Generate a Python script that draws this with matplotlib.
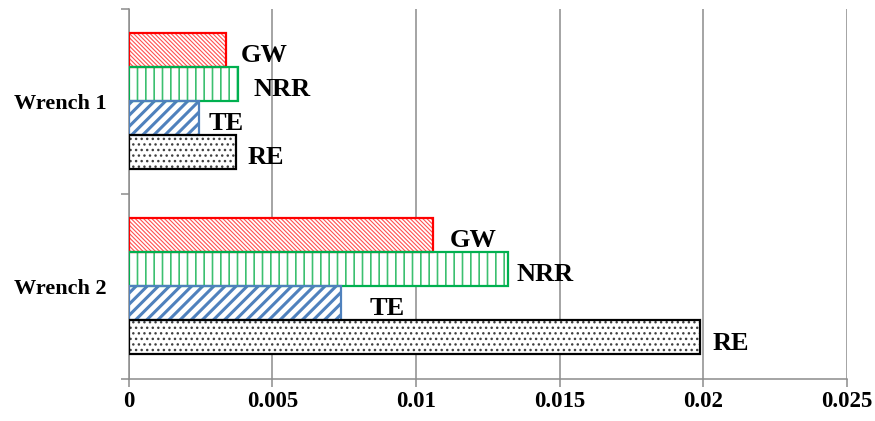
import numpy as np
import matplotlib
matplotlib.use('Agg')
import matplotlib.pyplot as plt

# === data ===
categories = ['Wrench 2', 'Wrench 1']
series_names = ['GW', 'NRR', 'TE', 'RE']
gw_vals = [0.0106, 0.0034]
nrr_vals = [0.0132, 0.0038]
te_vals = [0.0074, 0.00245]
re_vals = [0.0199, 0.00375]
x_ticks = [0, 0.005, 0.01, 0.015, 0.02, 0.025]
x_tick_labels = ['0', '0.005', '0.01', '0.015', '0.02', '0.025']

plt.rcParams['font.family'] = ['Liberation Serif', 'DejaVu Serif']
plt.rcParams['font.weight'] = 'bold'

# style per series: edge, hatch colour, hatch, hatch linewidth
styles = {
    'GW':  ('#FF0000', '#FF5050', '\\' * 8, 0.8),
    'NRR': ('#00B050', '#3CC070', '||', 1.2),
    'TE':  ('#4F81BD', '#4F81BD', '///', 2.2),
    'RE':  ('#000000', '#404040', '...', 1.0),
}
values = {'GW': gw_vals, 'NRR': nrr_vals, 'TE': te_vals, 'RE': re_vals}
offsets = {'GW': 1.5, 'NRR': 0.5, 'TE': -0.5, 'RE': -1.5}
# label gap to the bar end, pixels (Wrench 2, Wrench 1)
label_gap = {'GW': [18, 16], 'NRR': [10, 17], 'TE': [30, 11], 'RE': [13, 13]}

fig = plt.figure(figsize=(8.75, 4.21), dpi=100)
ax = fig.add_axes([0.147, 0.1, 0.821, 0.879])

grid_col = '#8C8C8C'
h = 0.184
y = np.arange(len(categories))

for name in series_names:
    edge, hcol, hatch, hlw = styles[name]
    yy = y + offsets[name] * h
    with plt.rc_context({'hatch.linewidth': hlw}):
        hb = ax.barh(yy, values[name], height=h, color='white', edgecolor=hcol,
                     hatch=hatch, linewidth=0, zorder=3)
        for p in hb:
            if hasattr(p, 'set_hatch_linewidth'):
                p.set_hatch_linewidth(hlw)
    ax.barh(yy, values[name], height=h, fill=False, edgecolor=edge,
            linewidth=1.6, zorder=4)
    for yi, v, g in zip(yy, values[name], label_gap[name]):
        ax.annotate(name, (v, yi), xytext=(g * 0.72 - 1, -4), textcoords='offset points',
                    ha='left', va='center', fontsize=19, fontweight='bold',
                    zorder=5)

ax.set_xlim(0, 0.025)
ax.set_ylim(-0.5, 1.5)
ax.set_xticks(x_ticks)
ax.set_xticklabels(x_tick_labels, fontsize=16.5, fontweight='bold')
ax.tick_params(axis='x', length=6, width=1.1, color=grid_col, pad=3)

ax.set_yticks([-0.5, 0.5, 1.5])
ax.set_yticklabels([])
ax.set_yticks(y, minor=True)
ax.set_yticklabels(categories, minor=True, fontsize=16, fontweight='bold')
ax.tick_params(axis='y', which='major', length=6, width=1.1, color=grid_col)
ax.tick_params(axis='y', which='minor', length=0, pad=16)

ax.grid(axis='x', color=grid_col, linewidth=1.1, zorder=0)
ax.set_axisbelow(True)
for s in ['top', 'right']:
    ax.spines[s].set_visible(False)
for s in ['left', 'bottom']:
    ax.spines[s].set_color(grid_col)
    ax.spines[s].set_linewidth(1.1)

fig.savefig('out.png', dpi=100)
